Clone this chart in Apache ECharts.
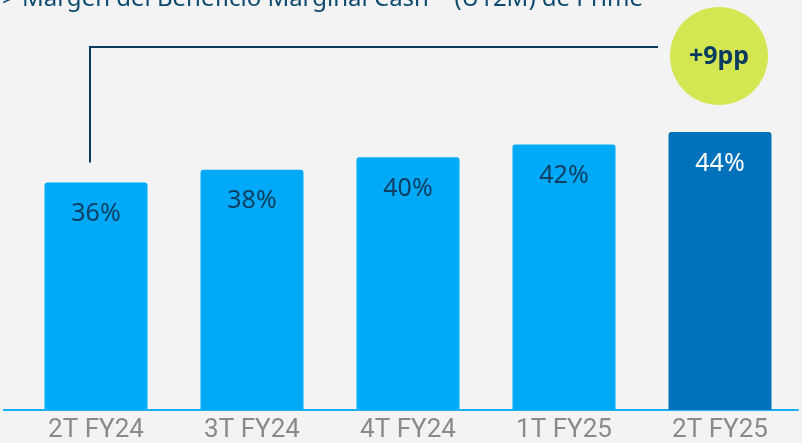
<!DOCTYPE html>
<html>
<head>
<meta charset="utf-8">
<script src="https://cdn.jsdelivr.net/npm/echarts@6/dist/echarts.min.js"></script>
<style>
  html, body { margin: 0; padding: 0; background: #f3f3f3; }
  #main { width: 802px; height: 443px; }
</style>
</head>
<body>
<div id="main"></div>
<script>
var categories = ['2T FY24', '3T FY24', '4T FY24', '1T FY25', '2T FY25']
var margins = [36, 38, 40, 42, 44]
var badgeText = '+9pp'
var titleText = '> Margen del Beneficio Marginal Cash\u207D\u00B9\u207E (U12M) de Prime'

var chart = echarts.init(document.getElementById('main'))

chart.setOption({
  backgroundColor: '#f3f3f3',
  animation: false,
  grid: { left: 18, right: 4, top: 94, bottom: 30 },
  xAxis: {
    type: 'category',
    data: categories,
    axisTick: { show: false },
    axisLine: { lineStyle: { color: '#1aaef5', width: 2 } },
    axisLabel: {
      color: '#8a8a8a',
      fontSize: 26,
      fontFamily: 'Liberation Sans Narrow, Roboto, sans-serif',
      margin: 7
    }
  },
  yAxis: {
    type: 'value',
    min: 0,
    max: 50,
    show: false,
    splitLine: { show: false }
  },
  series: [
    {
      type: 'bar',
      barWidth: 103,
      data: margins.map(function (v, i) {
        var last = i === margins.length - 1
        return {
          value: v,
          itemStyle: { color: last ? '#0072bc' : '#00aaf8', borderRadius: [3, 3, 0, 0] },
          label: { color: last ? '#ffffff' : '#0d3f62' }
        }
      }),
      label: {
        show: true,
        position: 'insideTop',
        distance: 19,
        fontSize: 25,
        fontFamily: 'Noto Sans, sans-serif',
        formatter: '{c}%'
      }
    }
  ]
})

// bracket + badge, anchored to the first and last bars
var p0 = chart.convertToPixel({ seriesIndex: 0 }, [0, margins[0]])
var pN = chart.convertToPixel({ seriesIndex: 0 }, [margins.length - 1, margins[margins.length - 1]])
var base = chart.convertToPixel({ seriesIndex: 0 }, [0, 0])
var bracketY = 47
chart.setOption({
  graphic: [
    {
      type: 'line',
      shape: { x1: 3, y1: base[1], x2: 20, y2: base[1] },
      style: { stroke: '#1aaef5', lineWidth: 2 }
    },
    {
      type: 'text',
      left: 2,
      top: -13,
      style: {
        text: titleText,
        fill: '#0d4a70',
        fontSize: 24,
        fontFamily: 'Noto Sans, sans-serif'
      }
    },
    {
      type: 'polyline',
      shape: { points: [[90, p0[1] - 20], [90, bracketY], [pN[0] - 62, bracketY]] },
      style: { stroke: '#0b3b5e', lineWidth: 2, fill: null }
    },
    {
      type: 'circle',
      shape: { cx: pN[0] - 1, cy: 56, r: 49 },
      style: { fill: '#d4e652' }
    },
    {
      type: 'text',
      x: pN[0] - 1,
      y: 57,
      style: {
        text: badgeText,
        fill: '#0b3b5e',
        fontSize: 25,
        fontWeight: 'bold',
        fontFamily: 'Noto Sans, sans-serif',
        align: 'center',
        verticalAlign: 'middle'
      }
    }
  ]
})
</script>
</body>
</html>
